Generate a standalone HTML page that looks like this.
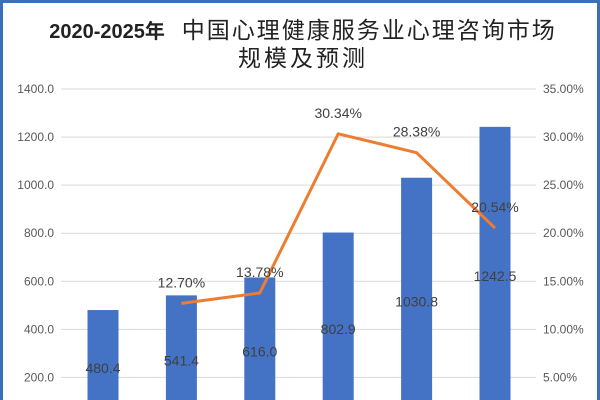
<!DOCTYPE html>
<html><head><meta charset="utf-8"><style>
html,body{margin:0;padding:0;background:#fff;width:600px;height:400px;overflow:hidden}
#wrap{position:relative;width:600px;height:400px;overflow:hidden;box-sizing:border-box;border:3px solid #3a70b8;border-bottom:none;font-family:"Liberation Sans","Noto Sans CJK SC",sans-serif}
#title{position:absolute;left:0;top:15px;width:600px;text-align:center;color:#222;line-height:25px}
svg{display:block}
</style></head><body>
<div id="wrap">
<div id="title"><span style="font-size:20px;font-weight:bold">2020-2025年</span><span style="font-size:23px;letter-spacing:2px">&nbsp;&nbsp;中国心理健康服务业心理咨询市场</span><br><span style="font-size:23px;letter-spacing:3px">规模及预测</span></div>
<svg id="chart" width="600" height="400" style="position:absolute;left:-3px;top:-3px"></svg>
</div>
<script>
const categories=['2020','2021','2022','2023','2024','2025'];
const barValues=[480.4,541.4,616.0,802.9,1030.8,1242.5];
const growth=[null,12.70,13.78,30.34,28.38,20.54];
const leftTicks=[200,400,600,800,1000,1200,1400];
const rightTicks=[5,10,15,20,25,30,35];
const NS='http://www.w3.org/2000/svg';
const svg=document.getElementById('chart');
const y0=425.5,yTop=89,plotL=61,plotR=536,x0=103,step=78.4,bw=31;
const yL=v=>y0-(v/1400)*(y0-yTop);
const yR=p=>y0-(p/35)*(y0-yTop);
const xC=i=>x0+i*step;
function mk(tag,attrs,txt){const e=document.createElementNS(NS,tag);for(const k in attrs)e.setAttribute(k,attrs[k]);if(txt!=null)e.textContent=txt;svg.appendChild(e);return e;}
leftTicks.forEach((t,i)=>{
 const g=mk('line',{x1:plotL,x2:plotR,y1:yL(t),y2:yL(t),stroke:'#d9d9d9','stroke-width':1});
 
 
 const l=mk('text',{x:54,y:yL(t)+4,'text-anchor':'end','font-size':12,fill:'#595959'},t.toFixed(1));
 
 
});
rightTicks.forEach(t=>{
 const l=mk('text',{x:543,y:yR(t)+4,'font-size':12,fill:'#595959'},t.toFixed(2)+'%');
 
 
});
barValues.forEach((v,i)=>{
 const top=yL(v);
 const b=mk('rect',{x:xC(i)-bw/2,y:top,width:bw,height:Math.max(0,403-top),fill:'#4472c4'});
 
 
});
barValues.forEach((v,i)=>{
 const l=mk('text',{x:xC(i),y:(yL(v)+y0)/2+5,'text-anchor':'middle','font-size':14,fill:'#404040'},v.toFixed(1));
 
 
});
let pts=[];
growth.forEach((g,i)=>{if(g!=null)pts.push(xC(i)+','+yR(g));});
const pl=mk('polyline',{points:pts.join(' '),fill:'none',stroke:'#ed7d31','stroke-width':3,'stroke-linejoin':'round'});


growth.forEach((g,i)=>{if(g==null)return;
 const l=mk('text',{x:xC(i),y:yR(g)-16,'text-anchor':'middle','font-size':14,fill:'#404040'},g.toFixed(2)+'%');
 
 
});
</script>
</body></html>
